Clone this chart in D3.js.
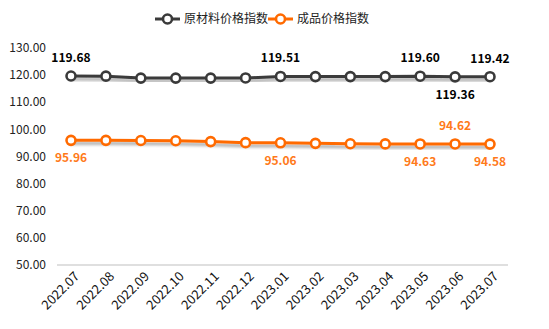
<!DOCTYPE html>
<html><head><meta charset="utf-8">
<script src="https://cdn.jsdelivr.net/npm/d3@7/dist/d3.min.js"></script>
<style>body{margin:0;background:#fff}svg{display:block}</style>
</head><body>
<svg id="c" width="549" height="329"></svg>
<script>
const categories = ["2022.07","2022.08","2022.09","2022.10","2022.11","2022.12","2023.01","2023.02","2023.03","2023.04","2023.05","2023.06","2023.07"];
const rawMaterial = [119.68,119.62,118.9,118.9,118.9,118.95,119.51,119.45,119.45,119.45,119.60,119.36,119.42];
const finished = [95.96,95.96,95.9,95.8,95.5,95.1,95.06,94.85,94.7,94.65,94.63,94.62,94.58];
const yTicks = [50,60,70,80,90,100,110,120,130];
const seriesNames = ["原材料价格指数","成品价格指数"];
// labels: index -> position
const rawLabels = [[0,"above"],[6,"above"],[10,"above"],[11,"below"],[12,"above"]];
const finLabels = [[0,"below"],[6,"below"],[10,"below"],[11,"above"],[12,"below"]];

const svg = d3.select("#c");
const font = "'Noto Sans CJK SC','Noto Sans',sans-serif";
const colors = ["#3a3a3a","#ff6a00"];
const labelColors = ["#000000","#ff7a1a"];

const x = d3.scalePoint().domain(categories).range([71, 490]);
const y = d3.scaleLinear().domain([50,130]).range([265,48]);

const defs = svg.append("defs");
const f = defs.append("filter").attr("id","sh").attr("x","-10%").attr("y","-50%").attr("width","120%").attr("height","300%");
f.append("feDropShadow").attr("dx",0).attr("dy",3).attr("stdDeviation",1.8).attr("flood-color","#000").attr("flood-opacity",0.35);

// y axis labels
svg.append("g").selectAll("text").data(yTicks).join("text")
  .attr("x",46).attr("y",d=>y(d)).attr("dy","0.35em").attr("text-anchor","end")
  .attr("font-family",font).attr("font-size",12).attr("fill","#222")
  .text(d=>d3.format(".2f")(d));

// x axis line
svg.append("line").attr("x1",57).attr("x2",508).attr("y1",y(50)).attr("y2",y(50))
  .attr("stroke","#bfbfbf").attr("stroke-width",1);

// x labels
svg.append("g").selectAll("text").data(categories).join("text")
  .attr("text-anchor","end")
  .attr("transform",d=>`translate(${x(d)+6},${y(50)+9}) rotate(-45)`)
  .attr("font-family",font).attr("font-size",13).attr("fill","#111")
  .attr("dy","0.35em")
  .text(d=>d);

const line = d3.line().x((d,i)=>x(categories[i])).y(d=>y(d));
[rawMaterial, finished].forEach((vals, si)=>{
  const g = svg.append("g");
  g.append("path").attr("d", line(vals)).attr("fill","none")
    .attr("stroke",colors[si]).attr("stroke-width",3).attr("filter","url(#sh)");
  g.selectAll("circle").data(vals).join("circle")
    .attr("cx",(d,i)=>x(categories[i])).attr("cy",d=>y(d)).attr("r",4.5)
    .attr("fill","#fff").attr("stroke",colors[si]).attr("stroke-width",2.6);
  const labs = si===0 ? rawLabels : finLabels;
  g.selectAll("text").data(labs).join("text")
    .attr("x",d=>x(categories[d[0]]))
    .attr("y",d=> y(vals[d[0]]) + (d[1]==="above" ? -14 : 22))
    .attr("text-anchor","middle")
    .attr("font-family",font).attr("font-size",12).attr("font-weight","bold")
    .attr("fill",labelColors[si])
    .text(d=>d3.format(".2f")(vals[d[0]]));
});

// legend
const leg = svg.append("g");
const legItems = [{x:155,tx:184},{x:268,tx:297}];
legItems.forEach((it,i)=>{
  leg.append("line").attr("x1",it.x).attr("x2",it.x+25).attr("y1",19).attr("y2",19)
    .attr("stroke",colors[i]).attr("stroke-width",3);
  leg.append("circle").attr("cx",it.x+12.5).attr("cy",19).attr("r",4.5)
    .attr("fill","#fff").attr("stroke",colors[i]).attr("stroke-width",2.6);
  leg.append("text").attr("x",it.tx).attr("y",19).attr("dy","0.35em")
    .attr("font-family",font).attr("font-size",12).attr("fill","#222")
    .text(seriesNames[i]);
});
</script>
</body></html>
